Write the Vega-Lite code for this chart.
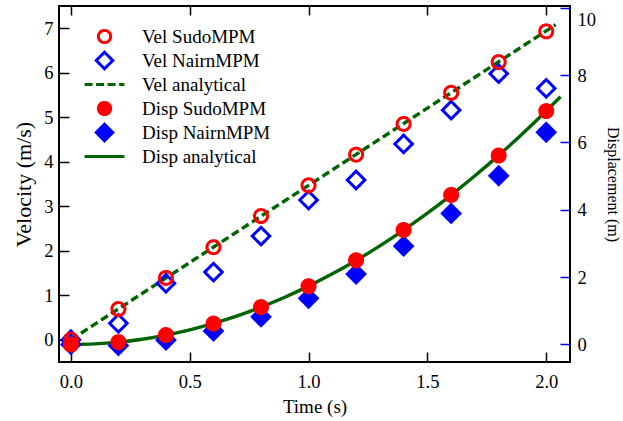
{
  "$schema": "https://vega.github.io/schema/vega-lite/v6.json",
  "width": 511,
  "height": 356,
  "autosize": {"type": "none"},
  "padding": {"left": 59, "top": 6, "right": 53, "bottom": 59},
  "background": "white",
  "config": {
    "font": "Liberation Serif",
    "view": {"stroke": "black", "strokeWidth": 2},
    "axis": {"labelFont": "Liberation Serif", "titleFont": "Liberation Serif", "labelFontSize": 18.5, "titleFontSize": 19, "titleFontWeight": "normal", "labelColor": "black", "titleColor": "black", "tickColor": "black", "tickWidth": 1.5, "domain": false, "grid": false, "tickSize": -10},
    "legend": {"labelFont": "Liberation Serif", "labelFontSize": 19, "labelColor": "black", "symbolStrokeWidth": 3, "symbolSize": 150, "labelOffset": 28, "rowPadding": -8, "gridAlign": "all", "labelLimit": 300}
  },
  "datasets": {
    "vel_pts": [
      {"t": 0.0, "v": 0.0, "series": "Vel NairnMPM"},
      {"t": 0.2, "v": 0.37, "series": "Vel NairnMPM"},
      {"t": 0.4, "v": 1.27, "series": "Vel NairnMPM"},
      {"t": 0.6, "v": 1.52, "series": "Vel NairnMPM"},
      {"t": 0.8, "v": 2.33, "series": "Vel NairnMPM"},
      {"t": 1.0, "v": 3.14, "series": "Vel NairnMPM"},
      {"t": 1.2, "v": 3.59, "series": "Vel NairnMPM"},
      {"t": 1.4, "v": 4.40, "series": "Vel NairnMPM"},
      {"t": 1.6, "v": 5.16, "series": "Vel NairnMPM"},
      {"t": 1.8, "v": 5.98, "series": "Vel NairnMPM"},
      {"t": 2.0, "v": 5.65, "series": "Vel NairnMPM"},
      {"t": 0.0, "v": 0.0, "series": "Vel SudoMPM"},
      {"t": 0.2, "v": 0.69, "series": "Vel SudoMPM"},
      {"t": 0.4, "v": 1.39, "series": "Vel SudoMPM"},
      {"t": 0.6, "v": 2.08, "series": "Vel SudoMPM"},
      {"t": 0.8, "v": 2.78, "series": "Vel SudoMPM"},
      {"t": 1.0, "v": 3.47, "series": "Vel SudoMPM"},
      {"t": 1.2, "v": 4.16, "series": "Vel SudoMPM"},
      {"t": 1.4, "v": 4.85, "series": "Vel SudoMPM"},
      {"t": 1.6, "v": 5.55, "series": "Vel SudoMPM"},
      {"t": 1.8, "v": 6.24, "series": "Vel SudoMPM"},
      {"t": 2.0, "v": 6.93, "series": "Vel SudoMPM"}
    ],
    "vel_line": [
      {"t": 0.0, "v": 0.0, "series": "Vel analytical"},
      {"t": 0.5, "v": 1.735, "series": "Vel analytical"},
      {"t": 1.0, "v": 3.47, "series": "Vel analytical"},
      {"t": 1.5, "v": 5.205, "series": "Vel analytical"},
      {"t": 2.04, "v": 7.08, "series": "Vel analytical"}
    ],
    "disp_pts": [
      {"t": 0.0, "v": 0.0, "series": "Disp NairnMPM"},
      {"t": 0.2, "v": -0.03, "series": "Disp NairnMPM"},
      {"t": 0.4, "v": 0.13, "series": "Disp NairnMPM"},
      {"t": 0.6, "v": 0.40, "series": "Disp NairnMPM"},
      {"t": 0.8, "v": 0.82, "series": "Disp NairnMPM"},
      {"t": 1.0, "v": 1.37, "series": "Disp NairnMPM"},
      {"t": 1.2, "v": 2.09, "series": "Disp NairnMPM"},
      {"t": 1.4, "v": 2.92, "series": "Disp NairnMPM"},
      {"t": 1.6, "v": 3.89, "series": "Disp NairnMPM"},
      {"t": 1.8, "v": 5.01, "series": "Disp NairnMPM"},
      {"t": 2.0, "v": 6.30, "series": "Disp NairnMPM"},
      {"t": 0.0, "v": 0.0, "series": "Disp SudoMPM"},
      {"t": 0.2, "v": 0.07, "series": "Disp SudoMPM"},
      {"t": 0.4, "v": 0.28, "series": "Disp SudoMPM"},
      {"t": 0.6, "v": 0.62, "series": "Disp SudoMPM"},
      {"t": 0.8, "v": 1.11, "series": "Disp SudoMPM"},
      {"t": 1.0, "v": 1.73, "series": "Disp SudoMPM"},
      {"t": 1.2, "v": 2.50, "series": "Disp SudoMPM"},
      {"t": 1.4, "v": 3.40, "series": "Disp SudoMPM"},
      {"t": 1.6, "v": 4.44, "series": "Disp SudoMPM"},
      {"t": 1.8, "v": 5.61, "series": "Disp SudoMPM"},
      {"t": 2.0, "v": 6.93, "series": "Disp SudoMPM"}
    ],
    "disp_line": [
      {"t": 0.0, "v": 0.0, "series": "Disp analytical"},
      {"t": 0.1, "v": 0.017, "series": "Disp analytical"},
      {"t": 0.2, "v": 0.069, "series": "Disp analytical"},
      {"t": 0.3, "v": 0.156, "series": "Disp analytical"},
      {"t": 0.4, "v": 0.277, "series": "Disp analytical"},
      {"t": 0.5, "v": 0.433, "series": "Disp analytical"},
      {"t": 0.6, "v": 0.624, "series": "Disp analytical"},
      {"t": 0.7, "v": 0.849, "series": "Disp analytical"},
      {"t": 0.8, "v": 1.109, "series": "Disp analytical"},
      {"t": 0.9, "v": 1.404, "series": "Disp analytical"},
      {"t": 1.0, "v": 1.733, "series": "Disp analytical"},
      {"t": 1.1, "v": 2.097, "series": "Disp analytical"},
      {"t": 1.2, "v": 2.496, "series": "Disp analytical"},
      {"t": 1.3, "v": 2.929, "series": "Disp analytical"},
      {"t": 1.4, "v": 3.397, "series": "Disp analytical"},
      {"t": 1.5, "v": 3.899, "series": "Disp analytical"},
      {"t": 1.6, "v": 4.436, "series": "Disp analytical"},
      {"t": 1.7, "v": 5.008, "series": "Disp analytical"},
      {"t": 1.8, "v": 5.615, "series": "Disp analytical"},
      {"t": 1.9, "v": 6.256, "series": "Disp analytical"},
      {"t": 2.0, "v": 6.932, "series": "Disp analytical"},
      {"t": 2.06, "v": 7.354, "series": "Disp analytical"}
    ]
  },
  "layer": [
    {
      "encoding": {
        "x": {"field": "t", "type": "quantitative", "scale": {"domain": [-0.05, 2.1], "nice": false, "zero": false}, "axis": {"orient": "bottom", "title": "Time (s)", "labelFont": "Liberation Serif", "titleFont": "Liberation Serif", "titleFontWeight": "normal", "values": [0, 0.5, 1, 1.5, 2], "format": ".1f", "labelPadding": 20, "titlePadding": 7}},
        "y": {"field": "v", "type": "quantitative", "scale": {"domain": [-0.5, 7.5], "nice": false, "zero": false}, "axis": {"orient": "left", "title": "Velocity (m/s)", "labelFont": "Liberation Serif", "titleFont": "Liberation Serif", "titleFontWeight": "normal", "titleFontSize": 22, "values": [0, 1, 2, 3, 4, 5, 6, 7], "labelPadding": 16, "titlePadding": 8}}
      },
      "layer": [
        {
          "data": {"name": "vel_line"},
          "mark": {"type": "line", "strokeWidth": 3.4, "color": "#006400", "strokeDash": [8, 4]},
          "encoding": {}
        },
        {
          "data": {"name": "vel_pts"},
          "mark": {"type": "point", "strokeWidth": 3, "opacity": 1, "size": 169},
          "encoding": {
            "fill": {"field": "series", "type": "nominal", "legend": {"title": null, "orient": "none", "legendX": 36, "legendY": 21}, "scale": {"domain": ["Vel SudoMPM", "Vel NairnMPM", "Vel analytical", "Disp SudoMPM", "Disp NairnMPM", "Disp analytical"], "range": ["transparent", "transparent", "transparent", "#ff0000", "#0000ff", "transparent"]}},
            "stroke": {"field": "series", "type": "nominal", "legend": {"title": null, "orient": "none", "legendX": 36, "legendY": 21}, "scale": {"domain": ["Vel SudoMPM", "Vel NairnMPM", "Vel analytical", "Disp SudoMPM", "Disp NairnMPM", "Disp analytical"], "range": ["#ff0000", "#0000ff", "#006400", "#ff0000", "#0000ff", "#006400"]}},
            "shape": {"field": "series", "type": "nominal", "legend": {"title": null, "orient": "none", "legendX": 36, "legendY": 21}, "scale": {"domain": ["Vel SudoMPM", "Vel NairnMPM", "Vel analytical", "Disp SudoMPM", "Disp NairnMPM", "Disp analytical"], "range": ["circle", "M0,-1.35L1.35,0L0,1.35L-1.35,0Z", "M-3.25,0H3.25", "circle", "M0,-1.35L1.35,0L0,1.35L-1.35,0Z", "M-3.25,0H3.25"]}},
            "strokeDash": {"field": "series", "type": "nominal", "legend": {"title": null, "orient": "none", "legendX": 36, "legendY": 21}, "scale": {"domain": ["Vel SudoMPM", "Vel NairnMPM", "Vel analytical", "Disp SudoMPM", "Disp NairnMPM", "Disp analytical"], "range": [[1, 0], [1, 0], [8, 3.5], [1, 0], [1, 0], [1, 0]]}}
          }
        }
      ]
    },
    {
      "encoding": {
        "x": {"field": "t", "type": "quantitative", "scale": {"domain": [-0.05, 2.1], "nice": false, "zero": false}, "axis": {"orient": "top", "title": null, "labels": false, "values": [0, 0.5, 1, 1.5, 2], "tickSize": -9}},
        "y": {"field": "v", "type": "quantitative", "scale": {"domain": [-0.52, 10.05], "nice": false, "zero": false}, "axis": {"orient": "right", "title": "Displacement (m)", "labelFont": "Liberation Serif", "titleFont": "Liberation Serif", "titleFontWeight": "normal", "titleFontSize": 16, "values": [0, 2, 4, 6, 8, 10], "tickColor": "#0000ff", "labelPadding": 17, "titlePadding": 9, "labelOffset": {"condition": {"test": "datum.value == 10", "value": 12}, "value": 0}}}
      },
      "layer": [
        {
          "data": {"name": "disp_line"},
          "mark": {"type": "line", "strokeWidth": 3.4, "interpolate": "monotone", "color": "#006400"},
          "encoding": {}
        },
        {
          "data": {"name": "disp_pts"},
          "mark": {"type": "point", "strokeWidth": 3, "opacity": 1, "size": 169},
          "encoding": {
            "fill": {"field": "series", "type": "nominal", "legend": {"title": null, "orient": "none", "legendX": 36, "legendY": 21}, "scale": {"domain": ["Vel SudoMPM", "Vel NairnMPM", "Vel analytical", "Disp SudoMPM", "Disp NairnMPM", "Disp analytical"], "range": ["transparent", "transparent", "transparent", "#ff0000", "#0000ff", "transparent"]}},
            "stroke": {"field": "series", "type": "nominal", "legend": {"title": null, "orient": "none", "legendX": 36, "legendY": 21}, "scale": {"domain": ["Vel SudoMPM", "Vel NairnMPM", "Vel analytical", "Disp SudoMPM", "Disp NairnMPM", "Disp analytical"], "range": ["#ff0000", "#0000ff", "#006400", "#ff0000", "#0000ff", "#006400"]}},
            "shape": {"field": "series", "type": "nominal", "legend": {"title": null, "orient": "none", "legendX": 36, "legendY": 21}, "scale": {"domain": ["Vel SudoMPM", "Vel NairnMPM", "Vel analytical", "Disp SudoMPM", "Disp NairnMPM", "Disp analytical"], "range": ["circle", "M0,-1.35L1.35,0L0,1.35L-1.35,0Z", "M-3.25,0H3.25", "circle", "M0,-1.35L1.35,0L0,1.35L-1.35,0Z", "M-3.25,0H3.25"]}},
            "strokeDash": {"field": "series", "type": "nominal", "legend": {"title": null, "orient": "none", "legendX": 36, "legendY": 21}, "scale": {"domain": ["Vel SudoMPM", "Vel NairnMPM", "Vel analytical", "Disp SudoMPM", "Disp NairnMPM", "Disp analytical"], "range": [[1, 0], [1, 0], [8, 3.5], [1, 0], [1, 0], [1, 0]]}}
          }
        }
      ]
    }
  ],
  "resolve": {"scale": {"y": "independent"}, "axis": {"x": "independent"}}
}
